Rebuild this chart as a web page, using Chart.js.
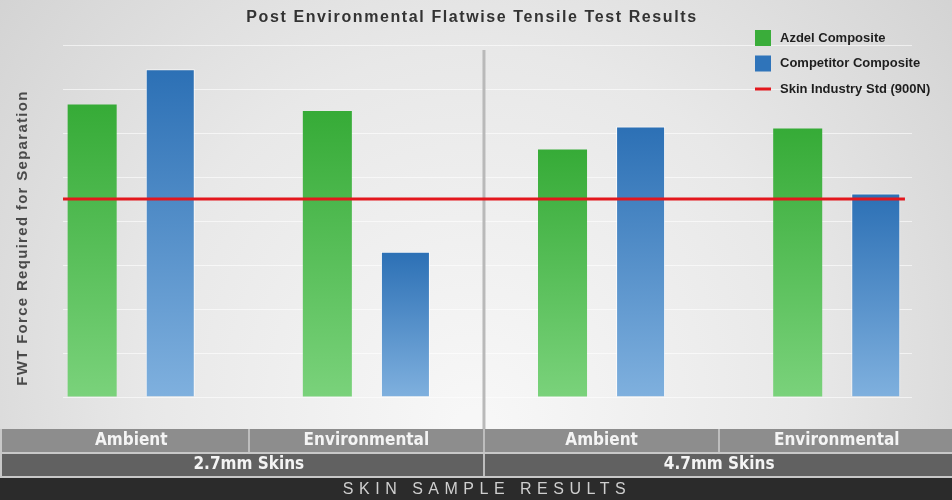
<!DOCTYPE html>
<html>
<head>
<meta charset="utf-8">
<script src="https://cdn.jsdelivr.net/npm/chart.js@4"></script>
<style>
  html, body { margin: 0; padding: 0; background: #e4e4e4; }
  #wrap { width: 952px; height: 500px; position: relative; }
</style>
</head>
<body>
<div id="wrap"><canvas id="chart"></canvas></div>
<script>
// data
const conditions = ['Ambient', 'Environmental', 'Ambient', 'Environmental'];
const skinGroups = ['2.7mm Skins', '4.7mm Skins'];
const azdel = [1330, 1300, 1125, 1220];
const competitor = [1490, 660, 1230, 925];
const industryStd = 900;
const stdSpan = [-0.29, 3.29];
const yTicks = { min: 0, max: 1600, step: 200 };

const chartTitle = 'Post Environmental Flatwise Tensile Test Results';
const yTitle = 'FWT Force Required for Separation';
const xTitle = 'SKIN SAMPLE RESULTS';

function barGradient(top, bottom) {
  return function (context) {
    const chart = context.chart;
    const area = chart.chartArea;
    if (!area || context.parsed == null) return top;
    const yScale = chart.scales.y;
    const y0 = yScale.getPixelForValue(context.parsed.y);
    const y1 = yScale.getPixelForValue(0);
    const g = chart.ctx.createLinearGradient(0, y0, 0, y1);
    g.addColorStop(0, top);
    g.addColorStop(1, bottom);
    return g;
  };
}

const backdrop = {
  id: 'backdrop',
  beforeDraw(chart) {
    const { ctx, width, height } = chart;
    ctx.save();
    const g = ctx.createRadialGradient(476, 430, 20, 476, 330, 640);
    g.addColorStop(0, '#f7f7f7');
    g.addColorStop(0.5, '#e8e8e8');
    g.addColorStop(1, '#cfcfcf');
    ctx.fillStyle = g;
    ctx.fillRect(0, 0, width, height);
    ctx.restore();
  },
  beforeDatasetsDraw(chart) {
    const { ctx } = chart;
    const x = chart.scales.x.getPixelForValue(1.5);
    ctx.save();
    ctx.strokeStyle = '#b9b9b9';
    ctx.lineWidth = 3;
    ctx.beginPath();
    ctx.moveTo(x, 50);
    ctx.lineTo(x, 430);
    ctx.stroke();
    ctx.restore();
  },
  afterDraw(chart) {
    const { ctx, width } = chart;
    const xs = chart.scales.x;
    ctx.save();

    // title
    ctx.fillStyle = '#333';
    ctx.font = 'bold 16px "Liberation Sans", Arial, sans-serif';
    ctx.letterSpacing = '1.6px';
    ctx.textAlign = 'center';
    ctx.textBaseline = 'middle';
    ctx.fillText(chartTitle, 472, 18);

    // y title
    ctx.save();
    ctx.translate(23, 238);
    ctx.rotate(-Math.PI / 2);
    ctx.fillStyle = '#4a4a4a';
    ctx.font = 'bold 15px "Liberation Sans", Arial, sans-serif';
    ctx.letterSpacing = '1.3px';
    ctx.fillText(yTitle, 0, 0);
    ctx.restore();

    // legend
    ctx.letterSpacing = '0px';
    ctx.textAlign = 'left';
    ctx.font = 'bold 13px "Liberation Sans", Arial, sans-serif';
    const sets = chart.data.datasets;
    sets.forEach((ds, i) => {
      const cy = 38 + i * 25.5;
      if (ds.type === 'line') {
        ctx.fillStyle = ds.borderColor;
        ctx.fillRect(755, cy - 1.5, 16, 3);
      } else {
        ctx.fillStyle = ds.swatch;
        ctx.fillRect(755, cy - 8, 16, 16);
      }
      ctx.fillStyle = '#1e1e1e';
      ctx.fillText(ds.label, 780, cy);
    });

    // bands
    ctx.fillStyle = '#8d8d8d';
    ctx.fillRect(0, 429, width, 23);
    ctx.fillStyle = '#616161';
    ctx.fillRect(0, 454, width, 22);
    ctx.fillStyle = '#2b2b2b';
    ctx.fillRect(0, 478, width, 22);
    ctx.fillStyle = '#c8c8c8';
    ctx.fillRect(0, 452, width, 2);
    ctx.fillRect(0, 476, width, 2);
    ctx.fillRect(0, 429, 2, 47);

    ctx.fillStyle = '#bdbdbd';
    [0.5, 1.5, 2.5].forEach(v => {
      const x = Math.round(xs.getPixelForValue(v));
      ctx.fillRect(x - 1, 429, 2, 23);
    });
    const mid = Math.round(xs.getPixelForValue(1.5));
    ctx.fillRect(mid - 1, 454, 2, 22);

    ctx.textAlign = 'center';
    ctx.font = 'bold 17px "DejaVu Sans Condensed", "Liberation Sans Narrow", sans-serif';
    ctx.fillStyle = '#f4f4f4';
    conditions.forEach((c, i) => {
      ctx.fillText(c, xs.getPixelForValue(i), 441);
    });
    skinGroups.forEach((s, i) => {
      ctx.fillText(s, xs.getPixelForValue(i * 2 + 0.5), 465);
    });

    ctx.font = '16px "Liberation Sans", Arial, sans-serif';
    ctx.letterSpacing = '5.5px';
    ctx.fillStyle = '#cfcfcf';
    ctx.fillText(xTitle, 487, 490);
    ctx.restore();
  }
};

const ctx = document.getElementById('chart').getContext('2d');
new Chart(ctx, {
  type: 'bar',
  data: {
    datasets: [
      {
        label: 'Azdel Composite',
        data: azdel.map((v, i) => ({ x: i, y: v })),
        backgroundColor: barGradient('#36ab37', '#7ad27b'),
        swatch: '#3aad3a',
        borderWidth: 0,
        order: 1
      },
      {
        label: 'Competitor Composite',
        data: competitor.map((v, i) => ({ x: i, y: v })),
        backgroundColor: barGradient('#2c70b5', '#7fb0de'),
        borderColor: 'rgba(255,255,255,0.75)',
        borderWidth: 1,
        swatch: '#2f74ba',
        order: 1
      },
      {
        type: 'line',
        label: 'Skin Industry Std (900N)',
        data: stdSpan.map(x => ({ x: x, y: industryStd })),
        borderColor: '#e3171d',
        borderWidth: 3,
        pointRadius: 0,
        order: 0
      }
    ]
  },
  options: {
    responsive: true,
    maintainAspectRatio: false,
    animation: false,
    categoryPercentage: 0.664,
    barPercentage: 0.628,
    layout: { padding: { left: 63, right: 40, top: 45, bottom: 103 } },
    plugins: {
      legend: { display: false },
      title: { display: false },
      tooltip: { enabled: false }
    },
    scales: {
      x: {
        type: 'linear',
        min: -0.29,
        max: 3.32,
        offset: false,
        display: false,
        grid: { display: false, offset: false },
        ticks: { display: false, stepSize: 1, includeBounds: false }
      },
      y: {
        min: yTicks.min,
        max: yTicks.max,
        grid: {
          color: 'rgba(255,255,255,0.6)',
          lineWidth: 1,
          drawTicks: false
        },
        border: { display: false },
        ticks: { display: false, stepSize: yTicks.step }
      }
    }
  },
  plugins: [backdrop]
});
</script>
</body>
</html>
